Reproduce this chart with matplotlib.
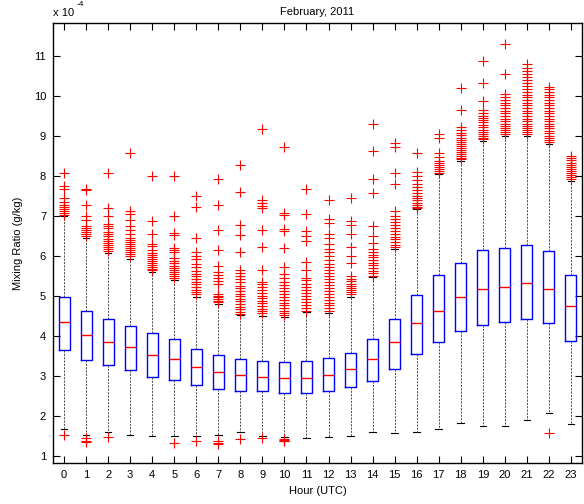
import matplotlib
matplotlib.use("Agg")
import matplotlib.pyplot as plt

plt.rcParams['font.family'] = ['Liberation Sans', 'DejaVu Sans']

hours = list(range(24))
hour_labels = [str(h) for h in hours]

medians = [4.35, 4.03, 3.84, 3.71, 3.51, 3.41, 3.225, 3.09, 3.01, 2.975, 2.94, 2.94,
           3.03, 3.17, 3.425, 3.84, 4.31, 4.63, 4.96, 5.18, 5.23, 5.33, 5.18, 4.75]
q1 = [3.64, 3.39, 3.27, 3.14, 2.98, 2.89, 2.78, 2.675, 2.63, 2.61, 2.58, 2.56,
      2.63, 2.725, 2.87, 3.18, 3.55, 3.84, 4.12, 4.28, 4.35, 4.41, 4.31, 3.87]
q3 = [4.975, 4.625, 4.41, 4.25, 4.06, 3.925, 3.68, 3.53, 3.425, 3.38, 3.35, 3.375,
      3.44, 3.58, 3.925, 4.41, 5.03, 5.52, 5.83, 6.15, 6.19, 6.27, 6.12, 5.52]
whisker_low = [1.68, 1.52, 1.6, 1.53, 1.49, 1.49, 1.49, 1.51, 1.6, 1.49, 1.475, 1.45,
               1.475, 1.49, 1.6, 1.56, 1.6, 1.67, 1.825, 1.74, 1.74, 1.89, 2.06, 1.8]
whisker_high = [7.0, 6.45, 6.07, 5.92, 5.6, 5.4, 4.98, 4.8, 4.52, 4.5, 4.48, 4.6,
                4.56, 4.98, 5.47, 6.17, 7.17, 8.04, 8.375, 8.88, 9.0, 9.0, 8.8, 7.88]

outliers = [
    [8.08, 7.75, 7.68, 7.45, 7.35, 7.27, 7.22, 7.17, 7.12, 7.08, 7.03, 1.52],
    [7.67, 7.65, 7.27, 7.0, 6.9, 6.75, 6.7, 6.65, 6.6, 6.55, 6.5, 1.45, 1.38, 1.35],
    [8.08, 7.2, 7.0, 6.8, 6.75, 6.7, 6.6, 6.55, 6.5, 6.42, 6.38, 6.33, 6.28, 6.22, 6.18, 6.12, 1.48],
    [8.58, 7.12, 7.05, 6.9, 6.75, 6.65, 6.55, 6.45, 6.4, 6.35, 6.3, 6.25, 6.2, 6.15, 6.1, 6.05, 6.0],
    [8.0, 6.87, 6.55, 6.3, 6.25, 6.15, 6.08, 6.02, 5.98, 5.93, 5.88, 5.83, 5.78, 5.73, 5.68, 5.64],
    [8.0, 7.0, 6.57, 6.52, 6.2, 6.15, 6.1, 5.95, 5.88, 5.82, 5.75, 5.7, 5.65, 5.6, 5.55, 5.5, 5.45, 1.33],
    [7.5, 7.22, 6.45, 6.1, 6.0, 5.93, 5.8, 5.72, 5.62, 5.55, 5.5, 5.42, 5.35, 5.3, 5.22, 5.15, 5.1, 5.05, 1.37],
    [7.92, 7.28, 6.65, 6.15, 5.75, 5.6, 5.52, 5.45, 5.38, 5.3, 5.05, 5.0, 4.97, 4.93, 4.88, 4.85,
     1.37, 1.33, 1.29],
    [8.27, 7.6, 6.78, 6.52, 6.1, 5.65, 5.58, 5.5, 5.42, 5.35, 5.25, 5.2, 5.12, 5.05, 5.0, 4.93, 4.87,
     4.8, 4.73, 4.67, 4.6, 4.55, 1.41],
    [9.18, 7.4, 7.33, 7.25, 7.2, 6.65, 6.22, 5.65, 5.35, 5.3, 5.23, 5.15, 5.08, 5.0, 4.95, 4.88, 4.82,
     4.75, 4.68, 4.62, 4.56, 1.44],
    [8.72, 7.07, 7.02, 6.68, 6.62, 6.2, 5.72, 5.55, 5.45, 5.35, 5.28, 5.2, 5.12, 5.05, 4.98, 4.9, 4.83,
     4.76, 4.7, 4.63, 4.57, 4.52, 1.43, 1.4, 1.38, 1.36],
    [7.68, 7.04, 6.61, 6.5, 6.36, 5.85, 5.64, 5.45, 5.39, 5.3, 5.22, 5.15, 5.08, 5.0, 4.92, 4.85, 4.78,
     4.7, 4.63],
    [7.39, 6.92, 6.83, 6.54, 6.44, 6.29, 6.17, 6.1, 6.0, 5.9, 5.8, 5.72, 5.65, 5.58, 5.5, 5.42, 5.35,
     5.28, 5.2, 5.12, 5.05, 4.98, 4.9, 4.83, 4.76, 4.7, 4.62],
    [7.44, 6.88, 6.78, 6.54, 6.21, 6.0, 5.81, 5.5, 5.43, 5.38, 5.3, 5.25, 5.2, 5.15, 5.1, 5.05],
    [9.29, 8.61, 7.92, 7.57, 6.75, 6.5, 6.33, 6.17, 6.1, 6.03, 5.97, 5.9, 5.83, 5.77, 5.7, 5.63, 5.57, 5.5],
    [8.83, 8.73, 8.06, 7.79, 7.12, 7.0, 6.92, 6.85, 6.78, 6.7, 6.62, 6.55, 6.48, 6.42, 6.35, 6.28, 6.22],
    [8.56, 8.1, 8.0, 7.9, 7.8, 7.72, 7.65, 7.58, 7.5, 7.45, 7.4, 7.33, 7.28, 7.22, 7.2],
    [9.04, 8.94, 8.56, 8.46, 8.38, 8.33, 8.28, 8.23, 8.18, 8.12, 8.08],
    [10.19, 9.64, 9.21, 9.15, 9.08, 9.02, 8.95, 8.9, 8.85, 8.8, 8.75, 8.7, 8.65, 8.6, 8.55, 8.5, 8.45, 8.42],
    [10.87, 10.33, 9.87, 9.65, 9.58, 9.5, 9.45, 9.4, 9.35, 9.28, 9.22, 9.15, 9.1, 9.05, 9.0, 8.95, 8.92],
    [11.29, 10.54, 10.04, 9.97, 9.9, 9.83, 9.77, 9.7, 9.63, 9.57, 9.5, 9.43, 9.37, 9.3, 9.25, 9.2,
     9.15, 9.1, 9.05],
    [10.79, 10.7, 10.62, 10.55, 10.47, 10.4, 10.33, 10.25, 10.18, 10.1, 10.03, 9.97, 9.9, 9.83, 9.77,
     9.7, 9.63, 9.57, 9.5, 9.43, 9.37, 9.3, 9.25, 9.2, 9.15, 9.1, 9.05],
    [10.22, 10.17, 10.1, 10.03, 9.97, 9.9, 9.83, 9.77, 9.7, 9.63, 9.57, 9.5, 9.43, 9.37, 9.3, 9.25,
     9.2, 9.13, 9.07, 9.0, 8.95, 8.9, 8.85, 1.56],
    [8.5, 8.45, 8.4, 8.33, 8.28, 8.22, 8.17, 8.12, 8.07, 8.02, 7.97, 7.92],
]

stats = []
for i in range(len(hours)):
    stats.append(dict(med=medians[i], q1=q1[i], q3=q3[i],
                      whislo=whisker_low[i], whishi=whisker_high[i],
                      fliers=outliers[i], label=hour_labels[i]))

fig = plt.figure(figsize=(5.84, 5.04), dpi=100)
ax = fig.add_axes([53/584, 1 - 463/504, (582-53)/584, (463-23)/504])

ax.bxp(stats, positions=hours, widths=0.5, capwidths=0.3, showfliers=True,
       boxprops=dict(color='blue', linewidth=1.0),
       medianprops=dict(color='red', linewidth=1.0),
       whiskerprops=dict(color='#333333', linewidth=0.6, linestyle=(0, (2.5, 1.5))),
       capprops=dict(color='black', linewidth=0.8),
       flierprops=dict(marker='+', markeredgecolor='red', markersize=7,
                       markeredgewidth=0.8, linestyle='none'))

ax.set_xlim(-0.5, 23.5)
ax.set_ylim(0.82, 11.82)
ax.set_xticks(hours)
ax.set_xticklabels(hour_labels)
ax.set_yticks([1, 2, 3, 4, 5, 6, 7, 8, 9, 10, 11])
ax.set_yticklabels([str(v) for v in range(1, 12)])
ax.tick_params(direction='in', top=True, right=True, length=5, width=0.8,
               labelsize=8, colors='black', pad=5)
for s in ax.spines.values():
    s.set_linewidth(1.0)
    s.set_color('black')

ax.set_title('February, 2011', fontsize=8, pad=6)
ax.set_xlabel('Hour (UTC)', fontsize=8, labelpad=4)
ax.set_ylabel('Mixing Ratio (g/kg)', fontsize=8, labelpad=8)

ax.text(0.0, 1.012, 'x 10', transform=ax.transAxes, fontsize=8, ha='left', va='bottom')
ax.text(0.044, 1.035, '-4', transform=ax.transAxes, fontsize=6, ha='left', va='bottom')

fig.savefig('out.png', dpi=100)
